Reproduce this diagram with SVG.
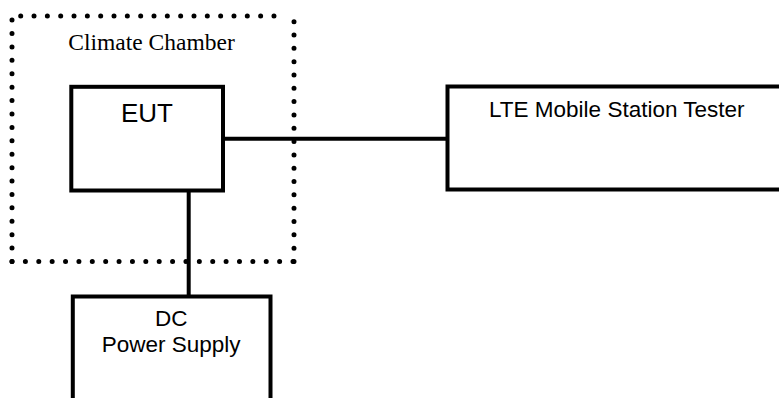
<svg xmlns="http://www.w3.org/2000/svg" width="779" height="398" viewBox="0 0 779 398">
<style>
.box{fill:#fff;stroke:#000;stroke-width:4}
.dot{fill:none;stroke:#000;stroke-width:5;stroke-linecap:round}
.wire{fill:none;stroke:#000;stroke-width:4}
.sans{font-family:"Liberation Sans",Arial,sans-serif;fill:#000}
.serif{font-family:"Liberation Serif","Times New Roman",serif;fill:#000}
</style>
<rect width="779" height="398" fill="#fff"/>
<g id="climate-chamber">
<path class="dot" d="M20.7 16 H287.3" stroke-dasharray="0 13.33"/>
<path class="dot" d="M294 21.7 V261.5" stroke-dasharray="0 13.32"/>
<path class="dot" d="M293 261.5 H12" stroke-dasharray="0 13.38"/>
<path class="dot" d="M12 261.5 V20" stroke-dasharray="0 13.41"/>
<text class="serif" x="68.3" y="50" font-size="23.5">Climate Chamber</text>
</g>
<g id="connectors">
<path class="wire" d="M223 138.7 H447.5"/>
<path class="wire" d="M188.7 190.5 V296.5"/>
</g>
<g id="eut">
<rect class="box" x="71.3" y="86.8" width="151.7" height="103.7"/>
<text class="sans" x="147" y="121.5" font-size="26" text-anchor="middle">EUT</text>
</g>
<g id="lte-tester">
<rect class="box" x="447.5" y="86.5" width="360" height="103"/>
<text class="sans" x="489" y="116.7" font-size="22.5">LTE Mobile Station Tester</text>
</g>
<g id="dc-power-supply">
<rect class="box" x="72.8" y="296.5" width="197.7" height="130"/>
<text class="sans" x="171.2" y="326" font-size="22.5" text-anchor="middle">DC</text>
<text class="sans" x="171.2" y="351.7" font-size="22.5" text-anchor="middle">Power Supply</text>
</g>
</svg>
